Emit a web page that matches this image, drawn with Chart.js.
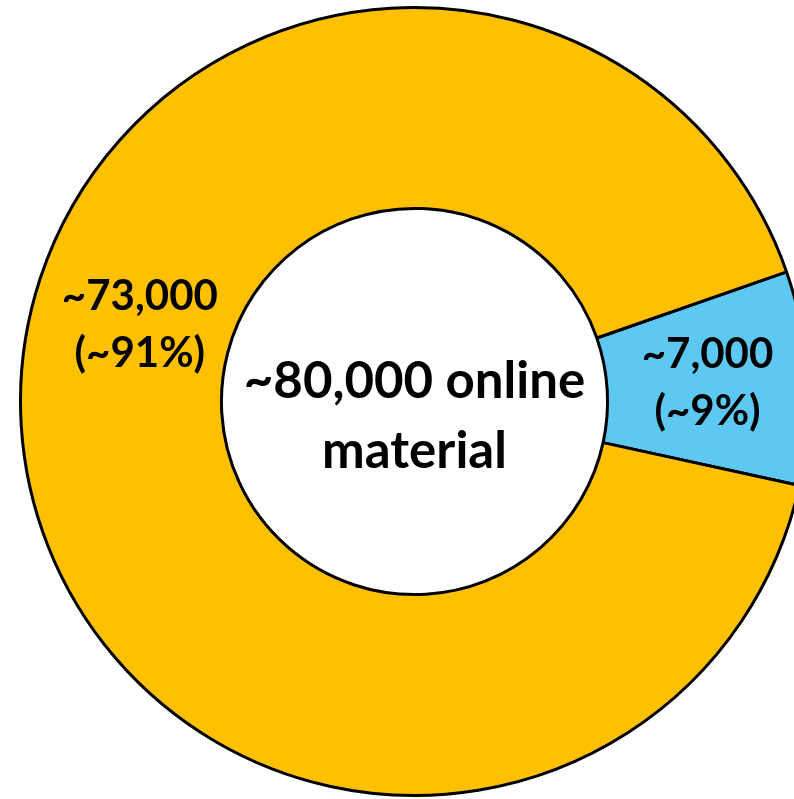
<!DOCTYPE html>
<html>
<head>
<meta charset="utf-8">
<script src="https://cdn.jsdelivr.net/npm/chart.js@4/dist/chart.umd.min.js"></script>
<style>
  html, body { margin: 0; padding: 0; background: #ffffff; overflow: hidden; }
  #wrap { position: relative; width: 830px; height: 799px; }
</style>
</head>
<body>
<div id="wrap"><canvas id="c"></canvas></div>
<script>
// ---- data ----
const categories = ["Other", "Main"];
const values = [7000, 73000];
const valueLabels = ["~7,000", "~73,000"];
const percentLabels = ["(~9%)", "(~91%)"];
const centerLines = ["~80,000 online", "material"];

// ---- style ----
const colors = ["#5DC9F2", "#FFC000"];
const labelAngleDeg = [null, 195.3];   // null = middle of slice
const labelRadiusFactor = [1.0, 0.97];
const labelFont = "bold 42px Lato";
const centerFont = "bold 51px Lato";

const labelPlugin = {
  id: "labels",
  afterDatasetsDraw(chart) {
    const ctx = chart.ctx;
    const meta = chart.getDatasetMeta(0);
    ctx.save();
    ctx.fillStyle = "#000";
    ctx.textAlign = "center";
    ctx.textBaseline = "alphabetic";
    let cx = 0, cy = 0;
    meta.data.forEach((arc, i) => {
      const p = arc.getProps(["x", "y", "startAngle", "endAngle", "innerRadius", "outerRadius"], true);
      cx = p.x; cy = p.y;
      const a = labelAngleDeg[i] === null ? (p.startAngle + p.endAngle) / 2 : labelAngleDeg[i] * Math.PI / 180;
      const r = (p.innerRadius + p.outerRadius) / 2 * labelRadiusFactor[i];
      const x = p.x + r * Math.cos(a);
      const y = p.y + r * Math.sin(a);
      ctx.font = labelFont;
      ctx.fillText(valueLabels[i], x, y - 16);
      ctx.fillText(percentLabels[i], x, y + 41);
    });
    ctx.font = centerFont;
    ctx.fillText(centerLines[0], cx, cy - 4);
    ctx.fillText(centerLines[1], cx, cy + 66);
    ctx.restore();
  }
};

new Chart(document.getElementById("c"), {
  type: "doughnut",
  data: {
    labels: categories,
    datasets: [{
      data: values,
      backgroundColor: colors,
      borderColor: "#000000",
      borderWidth: 3,
      hoverOffset: 0
    }]
  },
  options: {
    responsive: true,
    maintainAspectRatio: false,
    animation: false,
    rotation: 70.8,
    cutout: "49%",
    layout: { padding: { left: 19, right: 20, top: 6, bottom: 2 } },
    plugins: { legend: { display: false }, tooltip: { enabled: false } }
  },
  plugins: [labelPlugin]
});
</script>
</body>
</html>
